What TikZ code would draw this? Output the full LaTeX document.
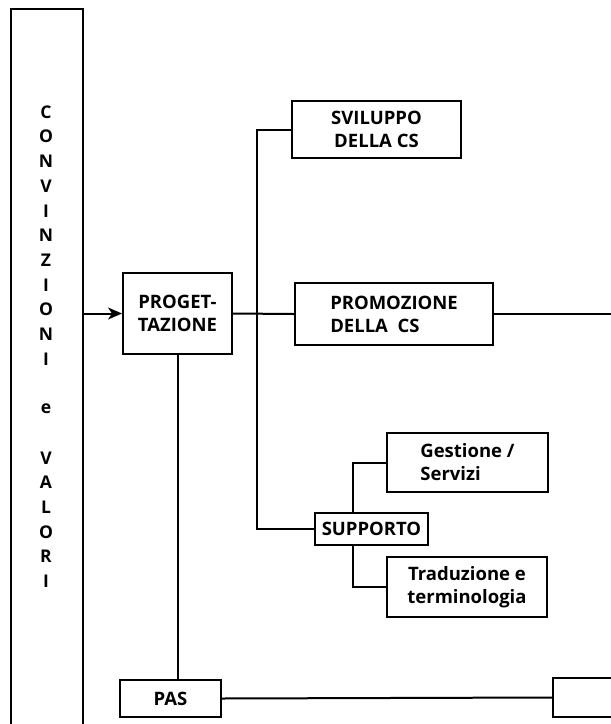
\documentclass[tikz,border=0pt]{standalone}
\usepackage{fontspec}
\setsansfont{Open Sans}
\usetikzlibrary{arrows.meta}

\tikzset{
  >={Stealth[length=14pt,width=12pt,inset=4pt]},
  blockbox/.style={draw, line width=2pt, inner sep=0pt, align=center,
    font=\sffamily\bfseries\fontsize{18.5}{23}\selectfont},
  letter/.style={inner sep=0pt, font=\sffamily\bfseries\fontsize{17.5}{20}\selectfont},
  link/.style={line width=2pt},
}

\begin{document}
\begin{tikzpicture}[x=1pt, y=-1pt]
        \useasboundingbox (0,0) rectangle (611,724);
        % left column
        \node[blockbox, minimum width=72pt, minimum height=730pt, anchor=north west] (valori) at (10,8) {};
        \foreach \ch [count=\i] in {C,O,N,V,I,N,Z,I,O,N,I,{},e,{},V,A,L,O,R,I}
                \node[letter] (ch\i) at (46, 112+24.7*\i-24.7) {\ch};
        % boxes
        \node[blockbox, minimum width=109pt, minimum height=81pt] (proget) at (177.5,313.5) {PROGET-\\TAZIONE};
        \node[blockbox, minimum width=169pt, minimum height=57pt] (sviluppo) at (376.5,129.5) {SVILUPPO\\DELLA CS};
        \node[blockbox, minimum width=198pt, minimum height=62pt, align=left] (promo) at (394,314) {PROMOZIONE\\DELLA~~CS};
        \node[blockbox, minimum width=113pt, minimum height=32pt] (supporto) at (371.5,529) {SUPPORTO};
        \node[blockbox, minimum width=161pt, minimum height=59pt, align=left] (gestione) at (467.5,462.5) {Gestione /\\Servizi};
        \node[blockbox, minimum width=160pt, minimum height=60pt] (tradu) at (467,587) {Traduzione e\\terminologia};
        \node[blockbox, minimum width=101pt, minimum height=37pt] (pas) at (170.5,698.5) {PAS};
        \node[blockbox, minimum width=90pt, minimum height=39pt, anchor=west] (rbox) at (552,697.5) {};
        % connectors
        \coordinate (trunk) at (257,0);
        \coordinate (sbranch) at (353,529);
        \coordinate (outr) at (616,314);
        \draw[->, link] (valori.east |- proget.west) -- (proget.west);
        \draw[link] (proget.east) -- (promo.west);
        \draw[link] (promo.east) -- (outr);
        \draw[link] (sviluppo.west) -| (trunk |- supporto.west) -- (supporto.west);
        \draw[link] (sbranch |- supporto.north) |- (gestione.west);
        \draw[link] (sbranch |- supporto.south) |- (tradu.west);
        \draw[link] (proget.south) -- (proget.south |- pas.north);
        \draw[link] (pas.east) -- (rbox.west);
\end{tikzpicture}
\end{document}
